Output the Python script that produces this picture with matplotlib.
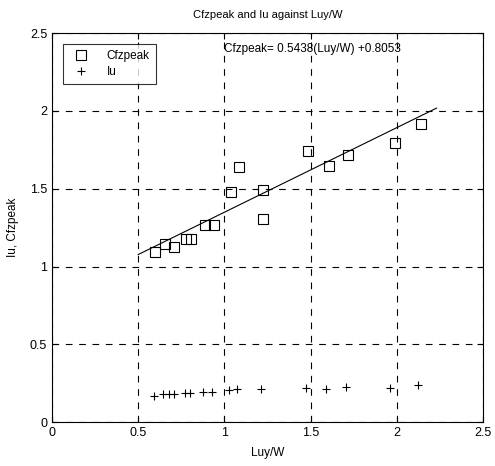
import numpy as np
import matplotlib
matplotlib.use("Agg")
import matplotlib.pyplot as plt

plt.rcParams["font.family"] = ["Liberation Sans", "DejaVu Sans"]

# values
luy_w_cfz = [0.600, 0.653, 0.709, 0.775, 0.807, 0.888, 0.940, 1.039, 1.082,
             1.226, 1.224, 1.483, 1.609, 1.719, 1.987, 2.138]
cfzpeak = [1.095, 1.142, 1.125, 1.174, 1.180, 1.270, 1.270, 1.480, 1.637,
           1.490, 1.303, 1.742, 1.645, 1.718, 1.794, 1.916]

luy_w_iu = [0.589, 0.641, 0.676, 0.709, 0.769, 0.800, 0.877, 0.929, 1.025,
            1.070, 1.213, 1.472, 1.590, 1.703, 1.962, 2.120]
iu = [0.168, 0.178, 0.178, 0.178, 0.189, 0.189, 0.196, 0.196, 0.204,
      0.215, 0.211, 0.221, 0.213, 0.226, 0.221, 0.239]

slope, intercept = 0.5438, 0.8053
fit_x = [0.5, 2.23]

fig = plt.figure(figsize=(4.95, 4.66), dpi=100)
ax = fig.add_axes([0.105, 0.094, 0.871, 0.835])

ax.plot(luy_w_cfz, cfzpeak, "s", mfc="none", mec="black", ms=6.5, mew=0.8,
        label="Cfzpeak")
ax.plot(luy_w_iu, iu, "+", color="black", ms=6, mew=0.8, label="Iu")
fx = np.array(fit_x)
ax.plot(fx, slope * fx + intercept, "-", color="black", lw=0.8)

ax.set_xlim(0, 2.5)
ax.set_ylim(0, 2.5)
ax.set_xticks([0, 0.5, 1, 1.5, 2, 2.5])
ax.set_yticks([0, 0.5, 1, 1.5, 2, 2.5])
ax.set_xticklabels(["0", "0.5", "1", "1.5", "2", "2.5"])
ax.set_yticklabels(["0", "0.5", "1", "1.5", "2", "2.5"])
ax.grid(True, color="black", linestyle=(0, (6, 6)), linewidth=0.8)
ax.tick_params(direction="in", length=4, labelsize=9, top=True, right=True)
for s in ax.spines.values():
    s.set_linewidth(0.8)

ax.set_title("Cfzpeak and Iu against Luy/W", fontsize=8, pad=11)
ax.set_xlabel("Luy/W", fontsize=8.5, labelpad=6)
ax.set_ylabel("Iu, Cfzpeak", fontsize=8.5, labelpad=8)
ax.text(1.0, 2.4, "Cfzpeak= 0.5438(Luy/W) +0.8053", fontsize=8.5, va="center")

leg = ax.legend(loc="upper left", fontsize=8.5, frameon=True, fancybox=False,
                edgecolor="black", borderaxespad=0.95, handlelength=2.0,
                handletextpad=1.2, borderpad=0.5, labelspacing=0.35)
leg.get_frame().set_linewidth(0.8)

fig.savefig("out.png", dpi=100)
